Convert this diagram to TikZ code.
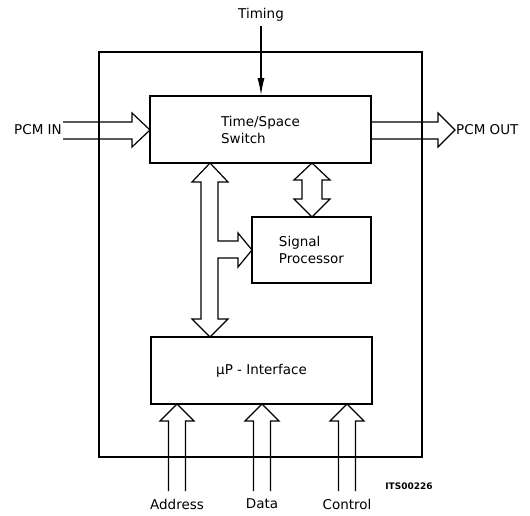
\documentclass[tikz,border=0pt]{standalone}
\usepackage{fontspec}
\setmainfont{DejaVu Sans}
\usetikzlibrary{arrows.meta}

\tikzset{
    frameline/.style={line width=1.8pt},
    blockbox/.style={draw, line width=1.8pt, align=left, inner sep=0pt,
        font=\fontsize{13.5}{17}\selectfont},
    busline/.style={line width=1.2pt, line join=miter},
    lbl/.style={font=\fontsize{13.5}{16}\selectfont, inner sep=0pt}
}

\begin{document}
\begin{tikzpicture}[x=1pt, y=-1pt]
        \useasboundingbox (0,0) rectangle (530,516);

        % -- outer frame ---------------------------------------------------------
        \draw[frameline] (99,52) rectangle (422,457);

        % -- function blocks -----------------------------------------------------
        \node[blockbox, minimum width=221pt, minimum height=67pt] (tss)
            at (260.5,129.5) {Time/Space\\Switch};
        \node[blockbox, minimum width=119pt, minimum height=66pt] (sp)
            at (311.5,250) {Signal\\Processor};
        \node[blockbox, minimum width=221pt, minimum height=67pt] (upi)
            at (261.5,370.5) {µP - Interface};

        % -- timing input --------------------------------------------------------
        \node[lbl] (timing) at (261,15) {Timing};
        \draw[line width=1.2pt, -{Latex[length=17pt, width=7pt]}]
            (timing.south) ++(0,4) -- (timing.south |- tss.north);

        % -- PCM highways --------------------------------------------------------
        \node[lbl, anchor=east] (pcmin) at (62,130) {PCM IN};
        \draw[busline] (63,122) -- (132,122) -- (132,113) -- (150,130)
            -- (132,147) -- (132,139) -- (63,139);
        \node[lbl, anchor=west] (pcmout) at (456,130) {PCM OUT};
        \draw[busline] (371,122) -- (438,122) -- (438,113) -- (455,130)
            -- (438,147) -- (438,139) -- (371,139);

        % -- switch <-> signal processor -----------------------------------------
        \draw[busline] (312,163) -- (330,180) -- (322,180) -- (322,199)
            -- (330,199) -- (312,217) -- (294,199) -- (302,199) -- (302,180)
            -- (294,180) -- cycle;

        % -- internal bus to uP interface with branch ----------------------------
        \draw[busline] (210,163) -- (228,182) -- (218,182) -- (218,241)
            -- (238,241) -- (238,233) -- (252,250) -- (238,267) -- (238,258)
            -- (218,258) -- (218,319) -- (228,319) -- (210,337) -- (192,319)
            -- (201,319) -- (201,182) -- (192,182) -- cycle;

        % -- microprocessor inputs -----------------------------------------------
        \foreach \bx/\name in {177/Address, 262/Data, 347/Control} {
            \draw[busline] (\bx-8.5,491) -- (\bx-8.5,421) -- (\bx-17,421)
                -- (\bx,404) -- (\bx+17,421) -- (\bx+8.5,421) -- (\bx+8.5,491);
            \node[lbl] (in-\name) at (\bx,504) {\name};
        }

        % -- drawing number ------------------------------------------------------
        \node[lbl, font=\fontsize{9}{11}\selectfont\bfseries] (itsno)
            at (409,486) {ITS00226};
    \end{tikzpicture}
\end{document}
